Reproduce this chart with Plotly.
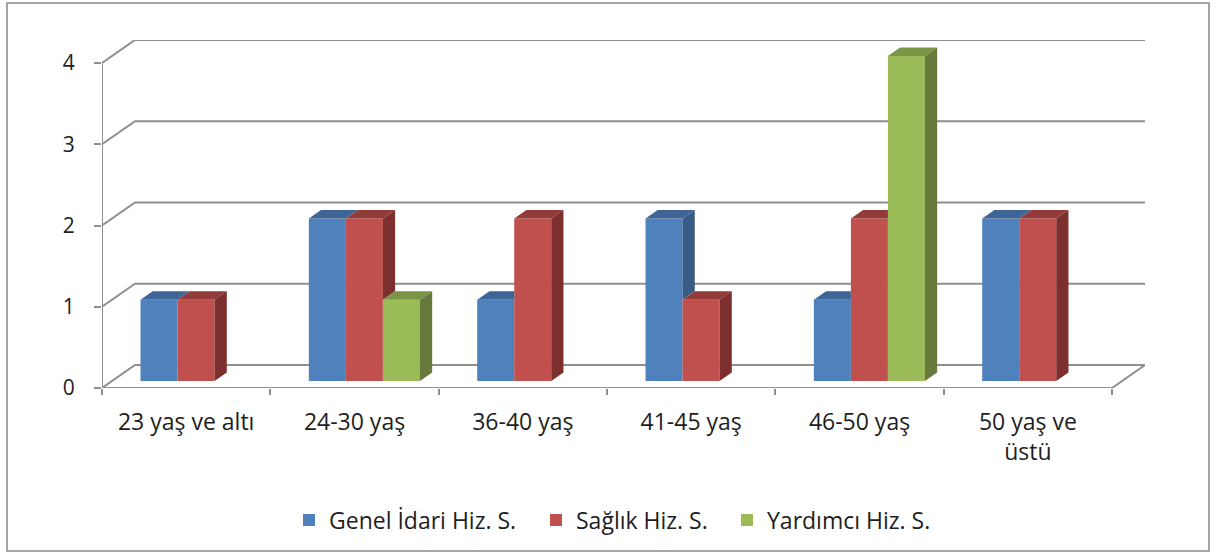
import plotly.graph_objects as go

# ---------------- data ----------------
categories = ["23 yaş ve altı", "24-30 yaş", "36-40 yaş", "41-45 yaş", "46-50 yaş", "50 yaş ve<br>üstü"]
series_names = ["Genel İdari Hiz. S.", "Sağlık Hiz. S.", "Yardımcı Hiz. S."]
genel_idari = [1, 2, 1, 2, 1, 2]
saglik = [1, 2, 2, 1, 2, 2]
yardimci = [0, 1, 0, 0, 4, 0]
y_ticks = [0, 1, 2, 3, 4]

series_values = [genel_idari, saglik, yardimci]

# ---------------- style ----------------
front_colors = ["#4F81BD", "#C0504D", "#9BBB59"]
top_colors = ["#3E6595", "#933B39", "#7B9546"]
side_colors = ["#385B87", "#7D2F2D", "#677A3B"]
grid_color = "#8F8F8F"
text_color = "#1E1E1E"
FONT = "Open Sans"

W, H = 1217, 560
ML, MR, MT, MB = 102, 72, 40, 172
legend_px = [289, 536, 727]   # left edge of each legend box (px)
legend_names = ["legend", "legend2", "legend3"]

n = len(categories)
DEPTH_X = 0.196   # depth offset in category units
DEPTH_Y = 0.283   # depth offset in value units
F0 = 0.30         # front face position in depth
FD = 0.37         # bar thickness in depth
BAR_W = 0.22      # bar width in category units

ymax = max(y_ticks)
xr_max = n + DEPTH_X
yr_max = ymax + DEPTH_Y

fig = go.Figure()

base = F0 * DEPTH_Y
ddx = FD * DEPTH_X
ddy = FD * DEPTH_Y
shift = F0 * DEPTH_X
ns = len(series_values)

for s, vals in enumerate(series_values):
    xs = [i + 0.5 + shift + (s - (ns - 1) / 2) * BAR_W for i in range(n)]
    fig.add_trace(go.Bar(
        x=xs, y=vals, base=base, width=BAR_W, name=series_names[s],
        marker=dict(color=front_colors[s], line=dict(width=0)),
        hoverinfo="skip", legend=legend_names[s],
    ))

for s, vals in enumerate(series_values):
    for i in range(n):
        v = vals[i]
        if v <= 0:
            continue
        xc = i + 0.5 + shift + (s - (ns - 1) / 2) * BAR_W
        xl, xr = xc - BAR_W / 2, xc + BAR_W / 2
        t = base + v
        v_next = series_values[s + 1][i] if s + 1 < ns else 0
        if v_next > v:
            tx = [xl, xr, xr, xl + ddx, xl]
        else:
            tx = [xl, xr, xr + ddx, xl + ddx, xl]
        ty = [t, t, t + ddy, t + ddy, t]
        fig.add_trace(go.Scatter(x=tx, y=ty, fill="toself", fillcolor=top_colors[s],
                                 mode="lines", line=dict(width=0), showlegend=False,
                                 hoverinfo="skip"))
        if v_next < v:
            lo = base + max(v_next, 0)
            sx = [xr, xr, xr + ddx, xr + ddx, xr]
            sy = [lo, t, t + ddy, lo + ddy, lo]
            fig.add_trace(go.Scatter(x=sx, y=sy, fill="toself", fillcolor=side_colors[s],
                                     mode="lines", line=dict(width=0), showlegend=False,
                                     hoverinfo="skip"))

shapes = []
for k in y_ticks:
    path = f"M 0,{k} L {DEPTH_X},{k + DEPTH_Y} L {n + DEPTH_X},{k + DEPTH_Y}"
    shapes.append(dict(type="path", path=path, xref="x", yref="y", layer="below",
                       line=dict(color=grid_color, width=2)))
shapes.append(dict(type="path", path=f"M 0,0 L {n},0 L {n + DEPTH_X},{DEPTH_Y}",
                   xref="x", yref="y", layer="below", line=dict(color=grid_color, width=2)))
shapes.append(dict(type="line", x0=0, y0=0, x1=0, y1=ymax, xref="x", yref="y",
                   layer="below", line=dict(color=grid_color, width=2)))
pw, ph = W - ML - MR, H - MT - MB
shapes.append(dict(type="rect", xref="paper", yref="paper",
                   x0=(7 - ML) / pw, x1=(1209 - ML) / pw,
                   y0=(H - MB - 551) / ph, y1=(H - MB - 3) / ph,
                   line=dict(color="#8A8A8A", width=1.5), fillcolor="rgba(0,0,0,0)"))

legend_layouts = {}
for name, px in zip(legend_names, legend_px):
    legend_layouts[name] = dict(orientation="h", x=(px - ML) / pw, xanchor="left",
                                y=(H - MB - 520) / ph, yanchor="middle",
                                font=dict(family=FONT, size=23, color=text_color),
                                itemwidth=30, bgcolor="rgba(0,0,0,0)")

fig.update_layout(
    width=W, height=H,
    margin=dict(l=ML, r=MR, t=MT, b=MB, autoexpand=False),
    paper_bgcolor="white", plot_bgcolor="white",
    barmode="overlay",
    shapes=shapes,
    showlegend=True,
    font=dict(family=FONT, color=text_color),
    **legend_layouts,
)
fig.update_xaxes(range=[0, xr_max], showgrid=False, zeroline=False, showline=False,
                 tickmode="array", tickvals=[i + 0.5 for i in range(n)], ticktext=categories,
                 ticks="", ticklabelstandoff=18,
                 tickfont=dict(family=FONT, size=23, color=text_color),
                 minor=dict(tickmode="array", tickvals=list(range(n + 1)), ticks="outside",
                            ticklen=6, tickwidth=2, tickcolor=grid_color, showgrid=False),
                 fixedrange=True)
fig.update_yaxes(range=[0, yr_max], showgrid=False, zeroline=False, showline=False,
                 tickmode="array", tickvals=y_ticks, ticks="outside", ticklen=7, tickwidth=2,
                 tickcolor=grid_color, ticklabelstandoff=15,
                 tickfont=dict(family=FONT, size=21, color=text_color), fixedrange=True)

fig.write_html("out.html", config={"displayModeBar": False},
               post_script="document.body.style.margin='0';")
